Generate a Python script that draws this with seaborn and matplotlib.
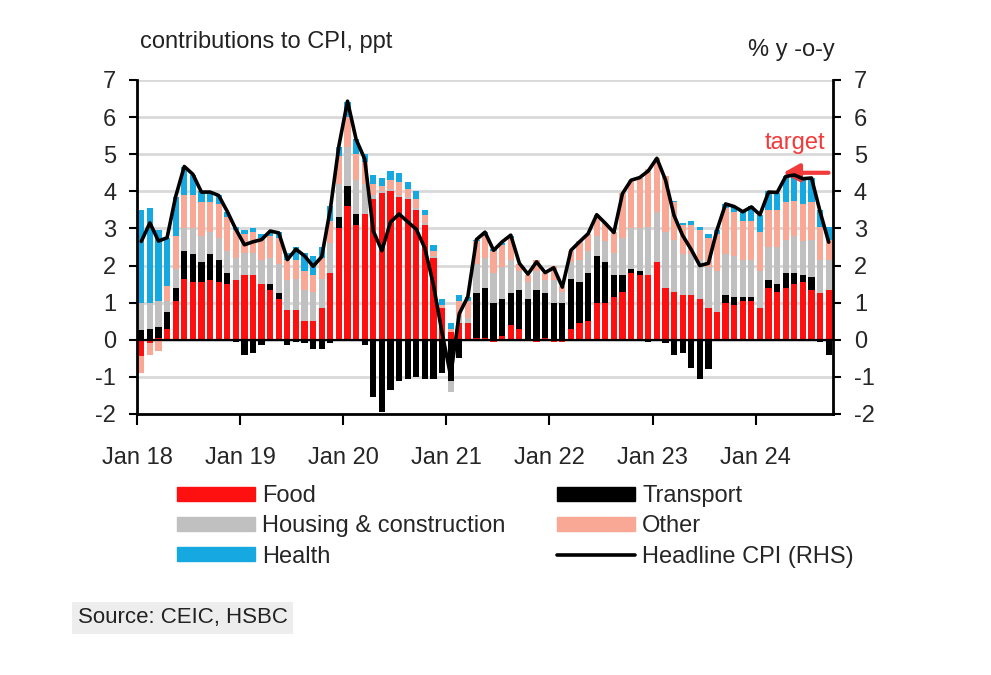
import numpy as np
import pandas as pd
import matplotlib
matplotlib.use("Agg")
import matplotlib.pyplot as plt
from matplotlib.patches import Patch
from matplotlib.lines import Line2D
from matplotlib import font_manager
import seaborn as sns

# ---------------- data ----------------
year_labels = ["Jan 18", "Jan 19", "Jan 20", "Jan 21", "Jan 22", "Jan 23", "Jan 24"]

food = [-0.45, -0.1, 0.05, 0.3, 1.05, 1.65, 1.55, 1.55, 1.6, 1.55, 1.5, 1.6,
        1.75, 1.75, 1.5, 1.35, 1.1, 0.8, 0.8, 0.5, 0.5, 0.85, 1.8, 3.0,
        3.6, 3.1, 3.4, 3.8, 3.95, 4.0, 3.85, 3.8, 3.5, 3.1, 2.2, 0.85,
        0.2, 0.45, 0.45, 0.05, 0.05, -0.05, 0.1, 0.4, 0.3, 0.0, -0.05, 0.05,
        -0.05, -0.05, 0.3, 0.45, 0.5, 1.0, 1.0, 1.15, 1.3, 1.8, 1.75, 1.75,
        2.1, 1.4, 1.3, 1.2, 1.2, 1.1, 0.85, 0.75, 1.0, 0.95, 1.05, 1.05,
        0.85, 1.4, 1.3, 1.4, 1.5, 1.55, 1.35, 1.25, 1.35]

transport = [0.25, 0.3, 0.3, 0.45, 0.35, 0.75, 0.75, 0.55, 0.7, 0.6, 0.3, -0.05,
             -0.4, -0.35, -0.15, 0.15, 0.15, -0.15, -0.05, -0.1, -0.25, -0.25, -0.1, 0.3,
             0.55, 0.3, -0.15, -1.55, -1.95, -1.35, -1.1, -1.05, -1.0, -1.05, -1.05, -0.9,
             -1.1, -0.5, 0.0, 1.2, 1.35, 1.0, 1.0, 0.85, 1.05, 1.1, 1.35, 1.2,
             1.0, 1.0, 1.35, 1.1, 1.3, 1.25, 1.1, 0.6, 0.45, 0.1, 0.1, -0.05,
             0.0, -0.1, -0.4, -0.35, -0.75, -1.05, -0.8, 0.0, 0.2, 0.2, 0.1, 0.1,
             0.0, 0.2, 0.2, 0.4, 0.3, 0.2, 0.35, -0.05, -0.4]

housing = [0.75, 0.7, 0.7, 0.3, 0.5, 0.6, 0.7, 0.7, 0.6, 0.6, 0.6, 0.6,
           0.6, 0.6, 0.65, 0.7, 0.8, 0.8, 0.85, 0.85, 0.8, 0.8, 0.8, 0.9,
           1.05, 0.9, 0.8, 0.1, 0.05, 0.05, 0.05, 0.05, 0.05, 0.05, 0.05, 0.0,
           -0.3, 0.2, 0.15, 0.8, 0.8, 0.8, 0.85, 0.9, 0.5, 0.45, 0.5, 0.35,
           0.6, 0.3, 0.45, 0.6, 0.6, 0.55, 0.55, 0.6, 1.0, 1.1, 1.15, 1.3,
           1.35, 1.5, 1.4, 1.1, 1.1, 1.05, 1.1, 1.1, 1.1, 1.1, 1.0, 1.0,
           1.0, 0.9, 1.0, 0.9, 1.0, 0.9, 1.0, 0.9, 0.8]

other = [-0.45, -0.3, -0.3, 0.4, 0.9, 0.9, 0.9, 0.9, 0.8, 0.9, 0.9, 0.75,
         0.5, 0.55, 0.6, 0.6, 0.7, 0.55, 0.5, 0.5, 0.45, 0.55, 0.6, 0.75,
         0.8, 0.7, 0.6, 0.3, 0.15, 0.25, 0.35, 0.2, 0.25, 0.2, 0.15, 0.1,
         0.1, 0.4, 0.45, 0.6, 0.6, 0.6, 0.6, 0.6, 0.2, 0.2, 0.3, 0.2,
         0.4, 0.15, 0.3, 0.5, 0.45, 0.55, 0.5, 0.55, 1.2, 1.3, 1.35, 1.55,
         1.45, 1.5, 1.0, 0.8, 0.8, 0.8, 0.8, 1.0, 1.25, 1.2, 1.05, 1.05,
         1.05, 1.0, 1.0, 1.0, 0.95, 1.0, 1.0, 0.9, 0.55]

health = [2.5, 2.55, 1.9, 1.3, 1.05, 0.75, 0.55, 0.3, 0.3, 0.25, 0.15, 0.1,
          0.1, 0.1, 0.1, 0.1, 0.15, 0.2, 0.35, 0.5, 0.5, 0.3, 0.4, 0.25,
          0.4, 0.4, 0.2, 0.25, 0.2, 0.25, 0.25, 0.2, 0.2, 0.15, 0.15, 0.15,
          0.15, 0.15, 0.1, 0.05, 0.1, 0.05, 0.05, 0.05, 0.0, 0.0, 0.0, 0.0,
          0.0, 0.0, 0.0, 0.0, 0.0, 0.0, 0.0, 0.0, 0.0, 0.0, 0.0, 0.0,
          0.0, 0.0, 0.05, 0.05, 0.1, 0.1, 0.1, 0.1, 0.1, 0.15, 0.25, 0.4,
          0.45, 0.5, 0.45, 0.7, 0.7, 0.7, 0.65, 0.45, 0.35]

headline_cpi = [2.65, 3.15, 2.66, 2.75, 3.86, 4.67, 4.46, 3.98, 3.98, 3.89, 3.46, 2.98,
                2.56, 2.64, 2.70, 2.93, 2.88, 2.16, 2.44, 2.26, 1.98, 2.24, 3.52, 5.23,
                6.43, 5.40, 4.87, 2.93, 2.40, 3.17, 3.39, 3.18, 2.98, 2.47, 1.48, 0.19,
                -0.97, 0.70, 1.16, 2.70, 2.90, 2.41, 2.64, 2.82, 2.06, 1.77, 2.10, 1.81,
                1.94, 1.42, 2.41, 2.64, 2.86, 3.37, 3.14, 2.89, 3.94, 4.30, 4.37, 4.55,
                4.89, 4.31, 3.35, 2.81, 2.43, 2.00, 2.06, 2.96, 3.66, 3.59, 3.45, 3.58,
                3.37, 3.98, 3.97, 4.40, 4.44, 4.34, 4.36, 3.45, 2.63]

series_names = ["Food", "Transport", "Housing & construction", "Other", "Health"]
series_colors = ["#FF1010", "#000000", "#C0C0C0", "#F9A896", "#16A9E1"]

# ---------------- style ----------------
sns.set_theme(style="white")
avail = {f.name for f in font_manager.fontManager.ttflist}
fam = ["Liberation Sans Narrow", "Liberation Sans", "DejaVu Sans"]
fam = [f for f in fam if f in avail] or ["DejaVu Sans"]
narrow = fam[0] == "Liberation Sans Narrow"
plt.rcParams["font.family"] = fam
plt.rcParams["axes.unicode_minus"] = False
fs = 20 if narrow else 17

df = pd.DataFrame({"Food": food, "Transport": transport,
                   "Housing & construction": housing, "Other": other,
                   "Health": health, "CPI": headline_cpi})
df["month"] = np.arange(len(df))
n = len(df)

fig = plt.figure(figsize=(9.91, 6.75), dpi=100)
ax = fig.add_axes([137/991, 1-414/675, (833-137)/991, (414-80)/675])

# stacked bars (positives and negatives stacked separately)
pos_base = np.zeros(n)
neg_base = np.zeros(n)
for name, col in zip(series_names, series_colors):
    v = df[name].to_numpy()
    bottoms = np.where(v >= 0, pos_base, neg_base)
    ax.bar(df["month"], v, bottom=bottoms, width=0.72, color=col,
           linewidth=0, zorder=2)
    pos_base = pos_base + np.where(v >= 0, v, 0)
    neg_base = neg_base + np.where(v < 0, v, 0)

ax.set_xlim(-0.5, n - 0.5)
ax.set_ylim(-2, 7)
ax.set_yticks(range(-2, 8))
ax.yaxis.grid(True, color="#D9D9D9", lw=2)
ax.set_axisbelow(True)
ax.axhline(0, color="black", lw=1.6, zorder=3)

xt = np.arange(-0.5, n, 12)
ax.set_xticks(xt)
ax.set_xticklabels(year_labels, fontsize=fs)
ax.tick_params(axis="x", direction="out", length=8, width=1.5, color="black",
               bottom=True, pad=16)
ax.tick_params(axis="y", direction="out", length=6, width=1.5, color="black",
               left=True, labelsize=fs, pad=9)
for s in ["left", "bottom"]:
    ax.spines[s].set_color("black")
    ax.spines[s].set_linewidth(2)
ax.spines["top"].set_visible(False)
ax.spines["right"].set_visible(False)

# right axis with headline CPI
ax2 = ax.twinx()
sns.lineplot(data=df, x="month", y="CPI", ax=ax2, color="black", lw=2.6,
             zorder=5, legend=False)
ax2.set_ylim(-2, 7)
ax2.set_yticks(range(-2, 8))
ax2.set_xlim(-0.5, n - 0.5)
ax2.set_ylabel("")
ax2.set_xlabel("")
ax.set_xlabel("")
ax.set_ylabel("")
ax2.grid(False)
ax2.tick_params(axis="y", direction="out", length=6, width=1.5, color="black",
                right=True, labelsize=fs, pad=9)
ax2.spines["right"].set_color("black")
ax2.spines["right"].set_linewidth(2)
for s in ["top", "left", "bottom"]:
    ax2.spines[s].set_visible(False)

# target annotation
red = "#F23A3A"
ax2.text(79.6, 5.3, "target", color=red, fontsize=fs, ha="right", va="center")
ax2.annotate("", xy=(74.4, 4.5), xytext=(80.3, 4.5),
             arrowprops=dict(arrowstyle="-|>,head_length=0.8,head_width=0.45",
                             color=red, lw=3), annotation_clip=False)

# titles
fig.text(140/991, 1-42/675, "contributions to CPI, ppt", fontsize=fs,
         ha="left", va="center", color="#222222")
fig.text(835/991, 1-50/675, "% y -o-y", fontsize=fs, ha="right", va="center",
         color="#222222")

# legend
handles = [Patch(color=series_colors[0], label="Food"),
           Patch(color=series_colors[2], label="Housing & construction"),
           Patch(color=series_colors[4], label="Health"),
           Patch(color=series_colors[1], label="Transport"),
           Patch(color=series_colors[3], label="Other"),
           Line2D([0], [0], color="black", lw=2.6, label="Headline CPI (RHS)")]
fig.legend(handles=handles, ncol=2, loc="upper left",
           bbox_to_anchor=(177/991, 1-485/675), frameon=False,
           fontsize=fs, handlelength=3.3, handleheight=0.55,
           handletextpad=0.3, columnspacing=2.2, labelspacing=0.35,
           borderpad=0, borderaxespad=0)

# source
fig.text(78/991, 1-618/675, "Source: CEIC, HSBC", fontsize=fs - 1,
         ha="left", va="center", color="#222222",
         bbox=dict(facecolor="#EDEDED", edgecolor="none", pad=4))

fig.savefig("out.png", dpi=100, facecolor="white")
